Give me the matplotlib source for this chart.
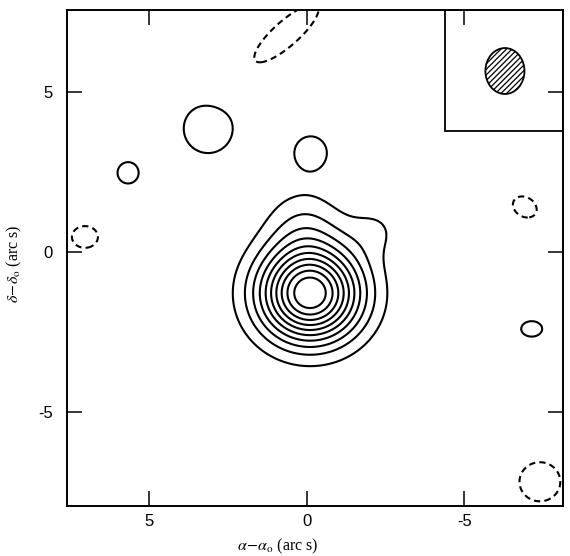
import numpy as np
import matplotlib
matplotlib.use("Agg")
import matplotlib.pyplot as plt
from matplotlib.patches import Ellipse, Rectangle

plt.rcParams['mathtext.fontset'] = 'stix'
plt.rcParams['hatch.linewidth'] = 0.9

# source components (arc s): x, y, peak, sigma_major, sigma_minor, angle (deg)
comp_x = [-0.1, 0.1, -2.2, 3.14, -0.12, 5.68, -7.14, 7.05, 0.65, -6.92, -7.4]
comp_y = [-1.3, 0.9, 0.7, 3.89, 3.12, 2.48, -2.41, 0.47, 6.85, 1.41, -7.2]
comp_amp = [11.0, 1.45, 0.9, 1.8, 1.85, 1.25, 1.2, -1.3, -1.4, -1.3, -2.0]
comp_smaj = [1.12, 0.85, 0.65, 0.73, 0.45, 0.5, 0.55, 0.57, 1.6, 0.55, 0.55]
comp_smin = [1.04, 0.85, 0.6, 0.73, 0.45, 0.5, 0.40, 0.47, 0.48, 0.42, 0.52]
comp_ang = [0, 0, 0, 0, 0, 0, 0, 0, 139, 30, 0]

levels = [-1, 1, 2, 3, 4, 5, 6, 7, 8, 9, 10]

# beam
beam_x, beam_y = -6.29, 5.67
beam_w, beam_h = 1.24, 1.44
inset_x0, inset_y0 = -4.38, 3.79

xlim = (7.62, -8.13)
ylim = (-7.96, 7.58)

gx = np.linspace(-8.5, 8.0, 700)
gy = np.linspace(-8.5, 8.0, 700)
X, Y = np.meshgrid(gx, gy)
Z = np.zeros_like(X)
for x0, y0, a, s1, s2, th in zip(comp_x, comp_y, comp_amp, comp_smaj, comp_smin, comp_ang):
    t = np.deg2rad(th)
    u = (X - x0) * np.cos(t) + (Y - y0) * np.sin(t)
    v = -(X - x0) * np.sin(t) + (Y - y0) * np.cos(t)
    Z += a * np.exp(-(u ** 2 / (2 * s1 ** 2) + v ** 2 / (2 * s2 ** 2)))

fig = plt.figure(figsize=(5.70, 5.56), dpi=100)
ax = fig.add_axes([0.1175, 0.0899, 0.870, 0.892])

cs = ax.contour(X, Y, Z, levels=levels, colors='black', linewidths=1.5)
cs.set_linestyles([(0, (3, 2)) if l < 0 else 'solid' for l in levels])

ax.add_patch(Rectangle((inset_x0, inset_y0), xlim[1] - inset_x0, ylim[1] - inset_y0,
                       facecolor='none', edgecolor='black', linewidth=1.3, zorder=3))
ax.add_patch(Ellipse((beam_x, beam_y), beam_w, beam_h, facecolor='white',
                     edgecolor='black', hatch='//////', linewidth=1.3, zorder=4))

ax.set_xlim(xlim)
ax.set_ylim(ylim)
ax.set_xticks([5, 0, -5])
ax.set_yticks([-5, 0, 5])
ax.set_xticklabels(['5', '0', '-5'])
ax.set_yticklabels(['-5', '0', '5'])
ax.tick_params(direction='in', length=11, width=1.1, top=True, right=True,
               labelsize=12)
ax.tick_params(axis='x', pad=6)
ax.tick_params(axis='y', pad=10)
for lab in ax.get_xticklabels() + ax.get_yticklabels():
    lab.set_family('Liberation Sans')
for sp in ax.spines.values():
    sp.set_linewidth(1.4)

ax.set_xlabel(r'$\alpha\!-\!\alpha_{\rm o}$ (arc s)', fontsize=11.5, family='Liberation Serif')
ax.set_ylabel(r'$\delta\!-\!\delta_{\rm o}$ (arc s)', fontsize=11.5, family='Liberation Serif')
ax.xaxis.set_label_coords(0.425, -0.062)
ax.yaxis.set_label_coords(-0.087, 0.488)

fig.savefig('out.png', dpi=100)
